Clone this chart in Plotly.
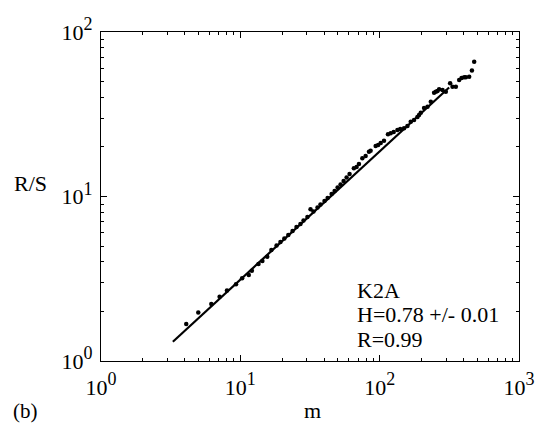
import plotly.graph_objects as go

# Data points (m, R/S)
m_vals = [4.09, 4.99, 6.19, 7.10, 8.02, 9.31, 10.3, 11.5, 12.1, 13.5,
          14.4, 15.6, 16.7, 18.2, 19.4, 20.7, 22.1, 23.7, 25.3, 27.0,
          28.4, 30.3, 31.9, 33.5, 35.8, 37.6, 40.2, 42.3, 45.2, 47.5,
          49.9, 52.4, 55.1, 57.9, 60.8, 65.3, 68.3, 71.0, 75.1, 79.3,
          83.8, 86.1, 93.6, 97.5, 101.7, 107.4, 114.7, 120.0, 126.1, 134.1,
          140.5, 149.6, 158.2, 167.1, 176.6, 186.7, 191.8, 197.2, 208.3, 220.4,
          232.8, 245.8, 252.9, 260.1, 267.1, 282.5, 298.4, 320.4, 333.4, 352.2,
          372.0, 387.1, 404.1, 415.7, 439.0, 459.2, 476.9]
rs_vals = [1.68, 1.97, 2.22, 2.46, 2.68, 2.93, 3.18, 3.33, 3.54, 3.89,
           4.05, 4.31, 4.73, 5.04, 5.29, 5.56, 5.83, 6.17, 6.53, 6.80,
           7.15, 7.51, 8.36, 8.11, 8.58, 8.94, 9.39, 9.79, 10.36, 10.80,
           11.34, 11.83, 12.43, 13.05, 13.70, 14.84, 15.11, 15.76, 17.07, 17.63,
           18.72, 18.98, 20.28, 20.56, 21.15, 21.84, 23.88, 24.23, 24.67, 25.37,
           25.72, 25.98, 26.83, 28.49, 29.17, 30.43, 31.29, 32.31, 34.51, 35.15,
           37.71, 42.76, 43.37, 43.79, 44.84, 44.40, 43.37, 48.76, 46.50, 46.50,
           51.07, 52.53, 53.04, 53.04, 53.50, 58.34, 66.02]

# Fitted line endpoints
fit_m = [3.28, 315.0]
fit_rs = [1.31, 46.0]

x_ticks = [1, 10, 100, 1000]
x_exps = ["0", "1", "2", "3"]
y_ticks = [1, 10, 100]
y_exps = ["0", "1", "2"]
x_minor = [k * d for d in (1, 10, 100) for k in range(2, 10)]
y_minor = [k * d for d in (1, 10) for k in range(2, 10)]

info_lines = ["K2A", "H=0.78 +/- 0.01", "R=0.99"]

FONT = "'Liberation Serif', 'Times New Roman', Times, serif"


def pow_label(e):
    return "10<sup><span style='font-size:18px'>" + e + "</span></sup>"


fig = go.Figure()
fig.add_trace(go.Scatter(x=fit_m, y=fit_rs, mode="lines",
                         line=dict(color="black", width=2.2), showlegend=False))
fig.add_trace(go.Scatter(x=m_vals, y=rs_vals, mode="markers",
                         marker=dict(color="black", size=4.5), showlegend=False))

axis_common = dict(type="log", showgrid=False, zeroline=False,
                   showline=True, linecolor="black", linewidth=1.2,
                   mirror="ticks", ticks="inside", ticklen=6, tickwidth=1,
                   tickcolor="black",
                   tickfont=dict(family=FONT, size=22, color="black"))

fig.update_xaxes(range=[0, 3], tickvals=x_ticks,
                 ticktext=[pow_label(e) for e in x_exps],
                 ticklabelstandoff=6,
                 minor=dict(tickvals=x_minor, ticks="inside", ticklen=3,
                            tickwidth=1, tickcolor="black"),
                 **axis_common)
fig.update_yaxes(range=[0, 2], tickvals=y_ticks,
                 ticktext=[pow_label(e) for e in y_exps],
                 ticklabelstandoff=3,
                 minor=dict(tickvals=y_minor, ticks="inside", ticklen=3,
                            tickwidth=1, tickcolor="black"),
                 **axis_common)

L, R, T, B = 101, 35, 32, 66
W, H = 554, 427
pw, ph = W - L - R, H - T - B


def px(x):
    return (x - L) / pw


def py(y):
    return (H - B - y) / ph


anns = []
for t, yc in zip(info_lines, [290, 314, 339]):
    anns.append(dict(text=t, x=px(355), y=py(yc), xref="paper", yref="paper",
                     xanchor="left", yanchor="middle", showarrow=False,
                     font=dict(family=FONT, size=22, color="black")))
anns.append(dict(text="R/S", x=px(30), y=py(184), xref="paper", yref="paper",
                 xanchor="center", yanchor="middle", showarrow=False,
                 font=dict(family=FONT, size=22, color="black")))
anns.append(dict(text="m", x=px(312), y=py(410), xref="paper", yref="paper",
                 xanchor="center", yanchor="middle", showarrow=False,
                 font=dict(family=FONT, size=22, color="black")))
anns.append(dict(text="(b)", x=px(25), y=py(411), xref="paper", yref="paper",
                 xanchor="center", yanchor="middle", showarrow=False,
                 font=dict(family=FONT, size=21, color="black")))

fig.update_layout(width=W, height=H, margin=dict(l=L, r=R, t=T, b=B),
                  paper_bgcolor="white", plot_bgcolor="white",
                  annotations=anns, showlegend=False)

fig.write_html("out.html")
